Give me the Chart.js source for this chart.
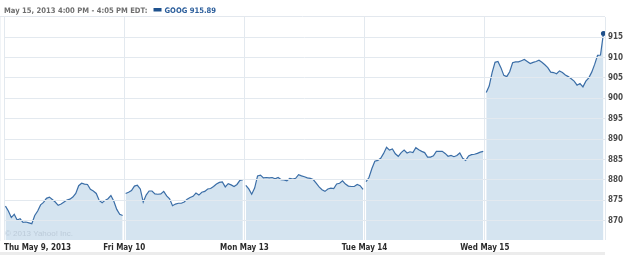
<!DOCTYPE html>
<html>
<head>
<meta charset="utf-8">
<script src="https://cdn.jsdelivr.net/npm/chart.js@4"></script>
<style>
  html, body { margin: 0; padding: 0; background: #fff; }
  #wrap { width: 625px; height: 255px; }
</style>
</head>
<body>
<div id="wrap"><canvas id="goog"></canvas></div>
<script>
// GOOG intraday, 5-minute-ish samples per session
const days = ['Thu May 9, 2013', 'Fri May 10', 'Mon May 13', 'Tue May 14', 'Wed May 15'];

const thu = [873.6, 872.4, 870.8, 871.6, 870.2, 870.5, 869.6, 869.7, 869.5, 869.3,
  871.3, 872.4, 873.9, 874.5, 875.5, 875.8, 875.2, 874.6, 873.8, 874.1,
  874.6, 875.1, 875.3, 875.8, 876.7, 878.6, 879.2, 879.0, 878.9, 877.7,
  877.3, 876.7, 875.0, 874.4, 875.0, 875.4, 876.2, 874.8, 872.8, 871.6, 871.3];
const fri = [876.7, 877.0, 877.4, 878.5, 878.7, 877.8, 874.6, 876.3, 877.3, 877.3,
  876.6, 876.5, 876.6, 877.2, 876.1, 875.4, 873.7, 874.1, 874.3, 874.3,
  874.6, 875.3, 875.7, 876.0, 876.8, 876.3, 877.0, 877.2, 877.8, 877.9,
  878.4, 879.0, 879.4, 879.5, 878.3, 879.1, 878.8, 878.4, 878.9, 879.9, 880.1];
const mon = [878.7, 877.8, 876.5, 878.0, 881.0, 881.2, 880.5, 880.6, 880.5, 880.6,
  880.3, 880.6, 880.1, 880.0, 879.8, 880.4, 880.2, 880.4, 881.3, 881.0,
  880.8, 880.5, 880.4, 880.1, 879.2, 878.3, 877.6, 877.2, 877.8, 878.0,
  877.9, 879.0, 879.2, 879.8, 879.0, 878.5, 878.4, 878.4, 878.9, 878.6, 877.7];
const tue = [879.6, 880.6, 882.8, 884.6, 884.8, 885.3, 886.5, 888.0, 887.3, 887.6,
  886.4, 885.8, 886.7, 887.3, 886.6, 886.9, 886.7, 887.9, 887.4, 887.0,
  886.7, 885.6, 885.6, 885.9, 887.0, 887.0, 887.0, 886.5, 885.8, 886.0,
  885.7, 886.0, 886.6, 885.3, 884.8, 885.9, 886.2, 886.3, 886.5, 886.8, 887.0];
const wed = [901.4, 903.0, 906.3, 908.8, 909.0, 907.5, 905.6, 905.3, 906.5, 908.7,
  908.9, 908.9, 909.2, 909.5, 909.0, 908.5, 908.8, 909.0, 909.3, 908.8,
  908.2, 907.5, 906.4, 906.3, 906.0, 906.7, 906.3, 905.7, 905.3, 904.8,
  904.2, 903.2, 903.6, 902.8, 904.2, 905.0, 906.4, 908.3, 910.5, 910.6, 915.89];

const sessions = [thu, fri, mon, tue, wed];
const yTicks = [870, 875, 880, 885, 890, 895, 900, 905, 910, 915];

// each session sits inside its own day slot; a null breaks the line between days
const points = [];
sessions.forEach((vals, d) => {
  vals.forEach((v, i) => {
    points.push({ x: d + 0.012 + 0.975 * i / (vals.length - 1), y: v });
  });
  if (d < sessions.length - 1) points.push({ x: d + 0.995, y: null });
});
const lastIdx = points.length - 1;

const FONT = '"DejaVu Sans Condensed", "DejaVu Sans", sans-serif';

const frame = {
  id: 'frame',
  afterDraw(chart) {
    const c = chart.ctx;
    const a = chart.chartArea;
    c.save();
    // top border of the plot
    c.strokeStyle = '#e3e8ee';
    c.lineWidth = 1;
    c.beginPath();
    c.moveTo(0, 16.5);
    c.lineTo(a.right, 16.5);
    c.stroke();
    // bottom strip
    c.fillStyle = '#ececec';
    c.fillRect(0, 252, a.right, 3);
    // header
    c.font = 'bold 7.6px ' + FONT;
    c.textBaseline = 'alphabetic';
    c.fillStyle = '#6e6e6e';
    const head = 'May 15, 2013 4:00 PM - 4:05 PM EDT:';
    c.fillText(head, 4, 12.5);
    const w = c.measureText(head).width;
    c.fillStyle = '#1f528e';
    c.fillRect(4 + w + 6, 8, 8, 3.5);
    c.fillStyle = '#2a5d9b';
    c.fillText('GOOG 915.89', 4 + w + 17, 12.5);
    // watermark
    c.font = '8px "Liberation Sans", Arial, sans-serif';
    c.fillStyle = '#bccbd9';
    c.fillText('\u00a9 2013 Yahoo! Inc.', 5, 236);
    c.restore();
  }
};

new Chart(document.getElementById('goog'), {
  type: 'line',
  data: {
    datasets: [{
      data: points,
      borderColor: '#3b6ea7',
      borderWidth: 1.2,
      backgroundColor: '#d5e4f0',
      fill: 'start',
      tension: 0,
      spanGaps: false,
      pointRadius: (ctx) => ctx.dataIndex === lastIdx ? 2.5 : 0,
      pointBackgroundColor: '#1e4f8a',
      pointBorderWidth: 0,
    }],
  },
  options: {
    responsive: true,
    maintainAspectRatio: false,
    animation: false,
    layout: { padding: { left: 3, top: 17, right: 0, bottom: 0 } },
    plugins: { legend: { display: false }, tooltip: { enabled: false } },
    scales: {
      x: {
        type: 'linear',
        min: 0,
        max: 5,
        afterFit: (s) => { s.height = 15; },
        grid: { color: '#e3e9ef', drawTicks: false, z: 1 },
        border: { display: false },
        ticks: {
          stepSize: 1,
          autoSkip: false,
          maxRotation: 0,
          align: 'inner',
          padding: 3,
          color: '#2b2b2b',
          font: { family: FONT, size: 8, weight: 'bold' },
          callback: (v) => days[v] ?? '',
        },
      },
      y: {
        position: 'right',
        min: 865.3,
        max: 919.9,
        afterFit: (s) => { s.width = 20; },
        afterBuildTicks: (s) => { s.ticks = yTicks.map((v) => ({ value: v })); },
        grid: { color: '#e3e9ef', drawTicks: false, z: 1 },
        border: { color: '#e3e9ef' },
        ticks: {
          padding: 3,
          color: '#4a4a4a',
          font: { family: FONT, size: 8, weight: 'bold' },
        },
      },
    },
  },
  plugins: [frame],
});
</script>
</body>
</html>
